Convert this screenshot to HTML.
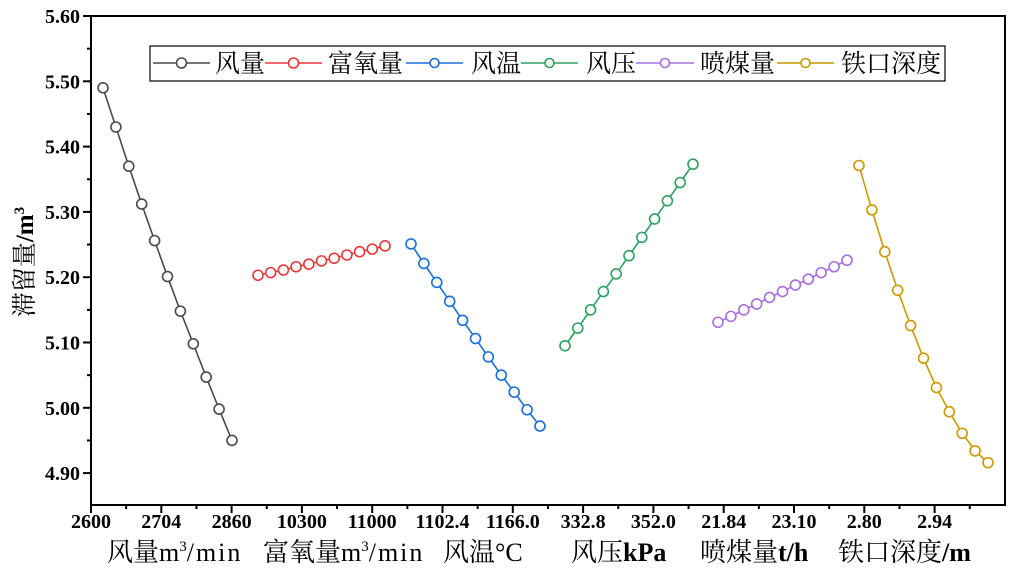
<!DOCTYPE html>
<html><head><meta charset="utf-8"><style>
body{margin:0;background:#fff;}
svg{display:block;}
.t{font-family:"Liberation Serif","Noto Serif CJK SC",serif;font-weight:bold;font-size:20px;fill:#000;}
.c{font-family:"Liberation Serif","Noto Serif CJK SC",serif;font-size:25px;fill:#000;}
.b{font-family:"Liberation Serif","Noto Serif CJK SC",serif;font-size:26px;fill:#000;}
</style></head><body>
<svg width="1031" height="588" viewBox="0 0 1031 588" xmlns="http://www.w3.org/2000/svg">
<rect x="91" y="16" width="914" height="489" fill="none" stroke="#000" stroke-width="2"/>
<g stroke="#000" stroke-width="2" id="ticks"></g>
<g id="yl"></g><g id="xl"></g>
<g id="series"></g>
<rect x="150" y="46" width="795" height="35" fill="#fff" stroke="#000" stroke-width="1.2"/>
<g id="leg"></g>
<text class="c" transform="translate(33,262) rotate(-90)" text-anchor="middle">滞留量<tspan font-weight="bold">/m</tspan><tspan font-weight="bold" font-size="15" dy="-9">3</tspan></text>
<g class="b">
<text x="107" y="561">风量m<tspan font-size="15" dy="-10">3</tspan><tspan dy="10" letter-spacing="2">/min</tspan></text>
<text x="263" y="561">富氧量m<tspan font-size="15" dy="-10">3</tspan><tspan dy="10" letter-spacing="2">/min</tspan></text>
<text x="443" y="561">风温°C</text>
<text x="571" y="561">风压<tspan font-weight="bold">kPa</tspan></text>
<text x="700" y="561">喷煤量<tspan font-weight="bold">t/h</tspan></text>
<text x="838" y="561">铁口深度<tspan font-weight="bold">/m</tspan></text>
</g>
</svg>
<script>
const NS="http://www.w3.org/2000/svg";
function el(p,n,a,txt){const e=document.createElementNS(NS,n);for(const k in a)e.setAttribute(k,a[k]);if(txt!==undefined)e.textContent=txt;document.getElementById(p).appendChild(e);return e;}
const Y=v=>16+(5.60-v)*653;
for(let i=0;i<=14;i++){const v=5.60-i*0.05;const y=Y(v);if(y>505)break;const maj=i%2==0;
 el("ticks","line",{x1:91,x2:maj?83:87,y1:y,y2:y});
 if(maj){el("yl","text",{class:"t",x:80,y:y+7,"text-anchor":"end"},v.toFixed(2));}}
const labs=["2600","2704","2860","10300","11000","1102.4","1166.0","332.8","352.0","21.84","23.10","2.80","2.94"];
for(let i=0;i<=26;i++){const x=91+i*35.15;const maj=i%2==0;if(x>1004)break;
 el("ticks","line",{x1:x,x2:x,y1:505,y2:maj?513:509});
 if(maj&&labs[i/2])el("xl","text",{class:"t",x:x,y:528,"text-anchor":"middle"},labs[i/2]);}
const S=[
 ["#4a4a4a",103,232,[5.49,5.43,5.37,5.312,5.256,5.201,5.148,5.098,5.047,4.998,4.950]],
 ["#e8383a",258,385,[5.203,5.207,5.211,5.216,5.220,5.225,5.229,5.234,5.239,5.243,5.248]],
 ["#1a6fdc",411,540,[5.251,5.221,5.192,5.163,5.134,5.106,5.078,5.050,5.024,4.997,4.972]],
 ["#2ea061",565,693,[5.095,5.122,5.150,5.178,5.205,5.233,5.261,5.289,5.317,5.345,5.373]],
 ["#a86ee0",718,847,[5.131,5.140,5.150,5.159,5.169,5.178,5.188,5.197,5.207,5.216,5.226]],
 ["#cc9900",859,988,[5.371,5.303,5.239,5.180,5.126,5.076,5.031,4.994,4.961,4.934,4.916]]];
S.forEach(([c,x0,x1,v])=>{const pts=v.map((d,i)=>[x0+(x1-x0)*i/10,Y(d)]);
 el("series","polyline",{points:pts.map(p=>p.join(",")).join(" "),fill:"none",stroke:c,"stroke-width":1.6});
 pts.forEach(p=>el("series","circle",{cx:p[0],cy:p[1],r:5,fill:"#fff",stroke:c,"stroke-width":1.6}));});
const L=[["风量",153,210,215],["富氧量",265,322,328],["风温",406,463,471],["风压",521,578,586],["喷煤量",636,694,700],["铁口深度",777,834,841]];
L.forEach(([t,a,b,tx],i)=>{const c=S[i][0];
 el("leg","line",{x1:a,x2:b,y1:63,y2:63,stroke:c,"stroke-width":1.6});
 el("leg","circle",{cx:(a+b)/2,cy:63,r:i<2?5:4.5,fill:"#fff",stroke:c,"stroke-width":1.6});
 el("leg","text",{class:"c",x:tx,y:72},t);});
</script>
</body></html>
